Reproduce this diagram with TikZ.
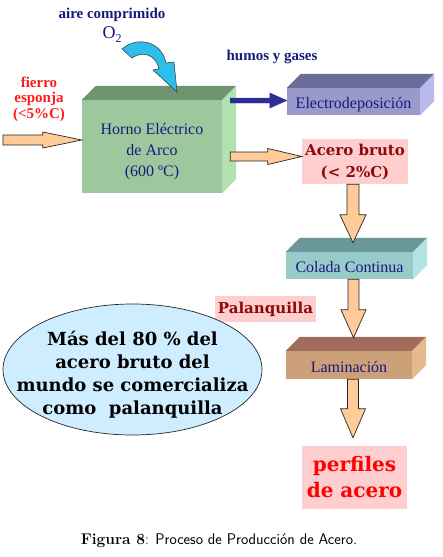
\documentclass[tikz,border=0pt]{standalone}
\usepackage{fontspec}
\newfontfamily\tnr{Liberation Serif}
\newfontfamily\dvs{DejaVu Serif}
\usetikzlibrary{calc,shapes.geometric}

\definecolor{azul}{RGB}{25,25,125}
\definecolor{azulflecha}{RGB}{45,45,150}
\definecolor{rojo}{RGB}{255,25,25}
\definecolor{granate}{RGB}{140,10,10}
\definecolor{rosa}{RGB}{255,206,206}
\definecolor{durazno}{RGB}{255,204,153}
\definecolor{celeste}{RGB}{45,190,235}
\definecolor{nube}{RGB}{206,238,255}
% caras de las cajas
\definecolor{verde}{RGB}{157,200,157}
\definecolor{verdetapa}{RGB}{110,148,112}
\definecolor{verdelado}{RGB}{178,226,178}
\definecolor{lila}{RGB}{153,153,204}
\definecolor{lilatapa}{RGB}{108,108,155}
\definecolor{lilalado}{RGB}{185,185,238}
\definecolor{turquesa}{RGB}{153,202,202}
\definecolor{turquesatapa}{RGB}{106,152,152}
\definecolor{turquesalado}{RGB}{178,228,228}
\definecolor{cafe}{RGB}{204,160,120}
\definecolor{cafetapa}{RGB}{160,108,92}
\definecolor{cafelado}{RGB}{230,186,138}

% tapa y costado de una caja
\newcommand\caja[3]{%
  \fill[#2] (#1.north west) -- ++(14,-14) -- ($(#1.north east)+(14,-14)$) -- (#1.north east) -- cycle;
  \fill[#3] (#1.north east) -- ++(14,-14) -- ($(#1.south east)+(14,-14)$) -- (#1.south east) -- cycle;
}
% texto de varias lineas, bajado un poco
\newcommand\bajar[2]{\raisebox{-#1}[\height][\depth]{\begin{tabular}{@{}c@{}}#2\end{tabular}}}

\tikzset{
  cara/.style={inner sep=0pt, font=\tnr\fontsize{16}{21}\selectfont, text=azul, align=center,
    text height=15pt, text depth=1pt},
  rotulo/.style={inner sep=0pt, font=\tnr\bfseries\fontsize{15}{15}\selectfont, text=azul, align=center},
  resultado/.style={fill=rosa, inner sep=0pt, font=\dvs\bfseries\fontsize{15}{22}\selectfont, text=granate, align=center},
  flecha/.style={draw=black!85, fill=durazno, line width=0.7pt},
  haciaderecha/.style n args={3}{to path={let \p1=(\tikztostart), \p2=(\tikztotarget) in
    (\x1,\y1-#2) -- (\x2-#1,\y1-#2) -- (\x2-#1,\y1-#3) -- (\x2,\y1) -- (\x2-#1,\y1+#3) -- (\x2-#1,\y1+#2) -- (\x1,\y1+#2) -- cycle}},
  haciaabajo/.style n args={3}{to path={let \p1=(\tikztostart), \p2=(\tikztotarget) in
    (\x1-#2,\y1) -- (\x1-#2,\y2+#1) -- (\x1-#3,\y2+#1) -- (\x1,\y2) -- (\x1+#3,\y2+#1) -- (\x1+#2,\y2+#1) -- (\x1+#2,\y1) -- cycle}},
}

\begin{document}
\begin{tikzpicture}[x=1pt, y=-1pt]
  \useasboundingbox (0,0) rectangle (443,557);
  % cajas
  \node[cara, text height=, text depth=, fill=verde, minimum width=140pt, minimum height=93pt] (horno) at (152,146.5)
    {\bajar{5pt}{Horno Eléctrico\\de Arco\\(600 ºC)}};
  \caja{horno}{verdetapa}{verdelado}
  \node[cara, fill=lila, minimum width=133pt, minimum height=27pt] (electro) at (353.5,101.5) {Electrodeposición};
  \caja{electro}{lilatapa}{lilalado}
  \node[cara, fill=turquesa, minimum width=127pt, minimum height=27pt] (colada) at (349.5,265.5) {Colada Continua};
  \caja{colada}{turquesatapa}{turquesalado}
  \node[cara, fill=cafe, minimum width=126pt, minimum height=28pt] (lamin) at (349,365) {Laminación};
  \caja{lamin}{cafetapa}{cafelado}
  % rotulos
  \node[rotulo] (aire) at (112,15) {aire comprimido};
  \node[inner sep=0pt, font=\tnr\fontsize{18}{18}\selectfont, text=azul] (oxigeno) at (112,35)
    {O\raisebox{-4pt}{\fontsize{12}{12}\selectfont 2}};
  \node[rotulo] (humos) at (272,57) {humos y gases};
  \node[rotulo, text=rojo, font=\tnr\bfseries\fontsize{15}{15.5}\selectfont] (fierro) at (39,99) {fierro\\esponja\\(<5\%C)};
  \node[resultado, minimum width=106pt, minimum height=45pt] (acero) at (355,161.5) {Acero bruto\\(< 2\%C)};
  \node[resultado, minimum width=101pt, minimum height=26pt] (palanq) at (265.5,309) {Palanquilla};
  \node[resultado, text=red, font=\dvs\bfseries\fontsize{20}{26}\selectfont, minimum width=105pt, minimum height=63pt]
    (perfiles) at (354.5,477.5) {perfiles\\de acero};
  \node[ellipse, draw=black!85, line width=0.7pt, fill=nube, minimum width=259pt, minimum height=131pt, inner sep=0pt,
    font=\dvs\bfseries\fontsize{18}{23}\selectfont] (nota) at (132.5,369.5)
    {\makebox[0pt]{\bajar{6pt}{Más del 80 \% del\\acero bruto del\\mundo se comercializa\\como~ palanquilla}}};
  % flechas
  \coordinate (entrada) at (3,140);
  \draw[flecha, haciaderecha={39pt}{5pt}{8pt}] (entrada) to (horno.west);
  \draw[flecha, haciaderecha={34pt}{4.5pt}{8pt}] ($(horno.east)+(8,10)$) to (acero.west);
  \draw[fill=azulflecha, draw=azulflecha, haciaderecha={17pt}{2.5pt}{7.5pt}] ($(horno.east)+(8,-46)$) to (electro.west);
  \draw[flecha, haciaabajo={28pt}{6pt}{13pt}] ($(acero.south)+(-2,0)$) to ($(colada.north)+(0,-9)$);
  \draw[flecha, haciaabajo={28pt}{5.5pt}{12.5pt}] ($(colada.south)+(4,0)$) to ($(lamin.north)+(0,-13)$);
  \draw[flecha, haciaabajo={29pt}{5.5pt}{12.5pt}] ($(lamin.south)+(4,0)$) to ($(perfiles.north)+(0,-8)$);
  % flecha curva del oxigeno
  \draw[fill=celeste, draw=black!80, line width=0.5pt] (122,49) .. controls (138,35) and (162,42) .. (166,63)
    -- (174,62) -- (177,92) -- (153,70) -- (159,69) .. controls (156,55) and (143,50) .. (132,58) -- cycle;
  % pie de figura
  \node[font=\fontsize{15.5}{17}\selectfont] (pie) at (219,541) {\textbf{Figura 8}: \textsf{Proceso de Producción de Acero.}};
\end{tikzpicture}
\end{document}
